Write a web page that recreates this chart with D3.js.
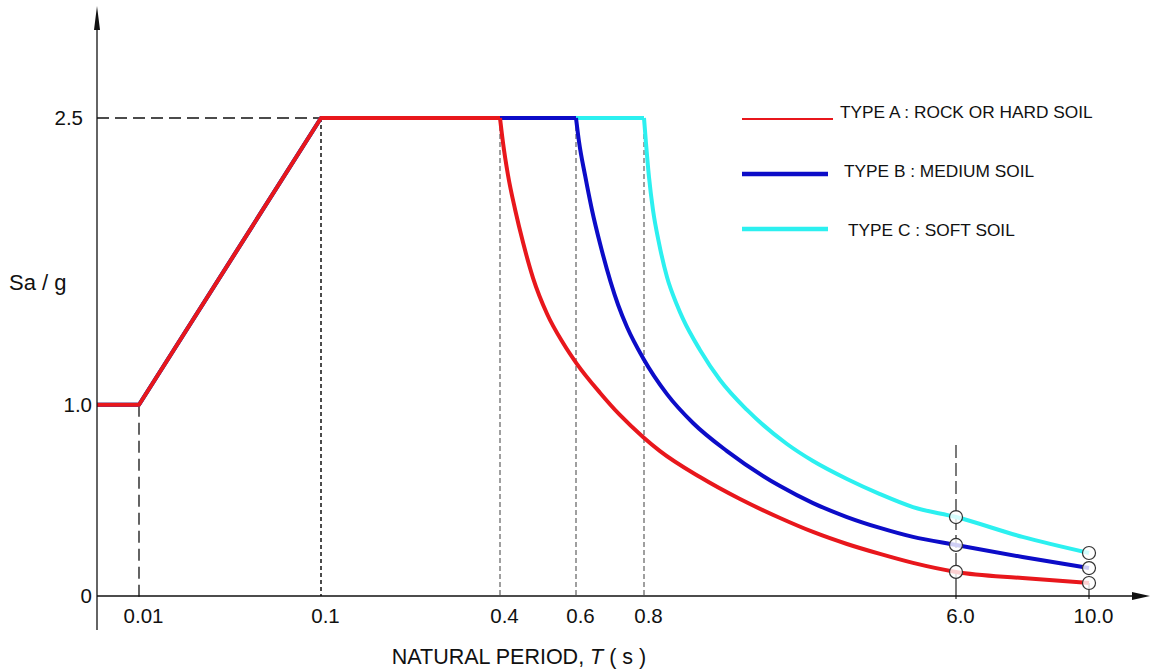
<!DOCTYPE html>
<html>
<head>
<meta charset="utf-8">
<script src="https://cdn.jsdelivr.net/npm/d3@7"></script>
<style>
body { margin: 0; background: #fff; }
text { font-family: "Liberation Sans", Arial, sans-serif; fill: #111; }
</style>
</head>
<body>
<script>
// axis ticks
const periodTicks = [0.01, 0.1, 0.4, 0.6, 0.8, 6.0, 10.0]
const periodLabels = ["0.01", "0.1", "0.4", "0.6", "0.8", "6.0", "10.0"]
const saTicks = [0, 1.0, 2.5]
const saLabels = ["0", "1.0", "2.5"]

// soil types
const soilTypes = ["TYPE A : ROCK OR HARD SOIL", "TYPE B : MEDIUM SOIL", "TYPE C : SOFT SOIL"]
const soilColors = ["#e8171c", "#0c0cc8", "#2cf0f0"]
const cornerT = [0.4, 0.6, 0.8]

// common rising branch
const rampT = [0, 0.01, 0.1]
const rampSa = [1.0, 1.0, 2.5]

// descending branches
const typeA_T = [0.4, 0.408, 0.421, 0.44, 0.461, 0.487, 0.524, 0.566, 0.603, 0.671, 0.729, 0.797, 1.067, 1.733, 2.4, 3.067, 3.617, 4.183, 4.733, 5.283, 6.0, 8.0, 10.0]
const typeA_Sa = [2.5, 2.369, 2.202, 2.019, 1.846, 1.663, 1.475, 1.323, 1.213, 1.062, 0.947, 0.832, 0.758, 0.622, 0.507, 0.408, 0.335, 0.272, 0.22, 0.173, 0.126, 0.094, 0.068]

const typeB_T = [0.6, 0.609, 0.627, 0.647, 0.671, 0.724, 0.75, 0.797, 1.183, 1.617, 2.183, 3.067, 3.617, 4.183, 4.733, 5.283, 6.0, 8.0, 10.0]
const typeB_Sa = [2.5, 2.374, 2.197, 2.019, 1.841, 1.522, 1.407, 1.245, 1.056, 0.905, 0.758, 0.575, 0.486, 0.413, 0.356, 0.309, 0.267, 0.204, 0.146]

const typeC_T = [0.8, 0.833, 0.883, 0.95, 1.05, 1.183, 1.35, 1.45, 1.733, 2.067, 2.517, 3.183, 3.617, 4.183, 4.733, 5.283, 6.0, 8.0, 10.0]
const typeC_Sa = [2.5, 2.369, 2.192, 2.019, 1.846, 1.668, 1.522, 1.449, 1.287, 1.13, 0.973, 0.795, 0.706, 0.612, 0.533, 0.465, 0.413, 0.309, 0.225]

const seriesT = [typeA_T, typeB_T, typeC_T]
const seriesSa = [typeA_Sa, typeB_Sa, typeC_Sa]
const markedT = [6.0, 10.0]

const W = 1150, H = 672

let svg = d3.select("body").append("svg")
    .attr("width", W)
    .attr("height", H)

// the period axis is drawn schematically, one linear piece between ticks
let x = d3.scaleLinear()
    .domain([0, 0.01, 0.1, 0.4, 0.6, 0.8, 6, 10])
    .range([97, 139, 321, 500, 576, 644, 956, 1089])

let y = d3.scaleLinear()
    .domain([0, 2.5])
    .range([596, 118])

// guide lines
function guide(x1, y1, x2, y2, color, dash, width){
    svg.append("line")
        .attr("x1", x1).attr("y1", y1)
        .attr("x2", x2).attr("y2", y2)
        .attr("stroke", color)
        .attr("stroke-width", width)
        .attr("stroke-dasharray", dash)
}

guide(x(0), y(2.5), x(0.1), y(2.5), "#111", "12,6", 1.3)
guide(x(0.01), y(1.0), x(0.01), y(0) + 3, "#111", "12,6", 1.3)
guide(x(0.1), y(2.5), x(0.1), y(0), "#111", "4,3", 1.5)
cornerT.forEach(t => guide(x(t), y(2.5), x(t), y(0), "#808080", "5,3", 1.5))
guide(x(6), 445, x(6), y(typeA_Sa[typeA_T.indexOf(6)]), "#222", "13,5", 1.2)
markedT.forEach(t => guide(x(t), y(typeA_Sa[typeA_T.indexOf(t)]), x(t), y(0) + 3, "#222", null, 1.2))

// curves, soft soil first so the stiffer types sit on top
let ramp = d3.line().x(d => x(d[0])).y(d => y(d[1]))
let decay = d3.line().x(d => x(d[0])).y(d => y(d[1])).curve(d3.curveMonotoneX)

for (let i = soilTypes.length - 1; i >= 0; i--){
    let up = rampT.map((t, j) => [t, rampSa[j]])
    up.push([cornerT[i], 2.5])
    let down = seriesT[i].map((t, j) => [t, seriesSa[i][j]])

    svg.append("path")
        .attr("d", ramp(up))
        .attr("fill", "none")
        .attr("stroke", soilColors[i])
        .attr("stroke-width", 4)
        .attr("stroke-linejoin", "round")

    svg.append("path")
        .attr("d", decay(down))
        .attr("fill", "none")
        .attr("stroke", soilColors[i])
        .attr("stroke-width", 4)
        .attr("stroke-linejoin", "round")
}

// end markers
for (let i = 0; i < soilTypes.length; i++){
    markedT.forEach(t => {
        svg.append("circle")
            .attr("cx", x(t))
            .attr("cy", y(seriesSa[i][seriesT[i].indexOf(t)]))
            .attr("r", 6.5)
            .attr("fill", "#fff")
            .attr("fill-opacity", 0.8)
            .attr("stroke", "#333")
            .attr("stroke-width", 1.2)
    })
}

// axis lines with arrows
svg.append("line")
    .attr("x1", 97).attr("y1", 630)
    .attr("x2", 97).attr("y2", 20)
    .attr("stroke", "#111").attr("stroke-width", 1.3)
svg.append("path")
    .attr("d", "M97,6 L100,30 L94,30 Z")
    .attr("fill", "#111")
svg.append("line")
    .attr("x1", 97).attr("y1", y(0))
    .attr("x2", 1140).attr("y2", y(0))
    .attr("stroke", "#111").attr("stroke-width", 1.5)
svg.append("path")
    .attr("d", "M1150,596 L1132,592 L1132,600 Z")
    .attr("fill", "#111")

// tick labels
svg.append("g")
    .attr("transform", "translate(0," + y(0) + ")")
    .call(d3.axisBottom(x).tickValues(periodTicks).tickSize(0).tickPadding(12)
        .tickFormat((d, i) => periodLabels[i]))
    .call(g => g.select(".domain").remove())
    .selectAll("text")
    .attr("dx", 4)
    .style("font-size", "20.5px")
    .style("font-family", "\"Liberation Sans\", Arial, sans-serif")
    .attr("fill", "#111")

svg.append("g")
    .attr("transform", "translate(97,0)")
    .call(d3.axisLeft(y).tickValues(saTicks).tickSize(0).tickPadding(5)
        .tickFormat((d, i) => saLabels[i]))
    .call(g => g.select(".domain").remove())
    .selectAll("text")
    .attr("dx", d => d == 2.5 ? -9 : 0)
    .style("font-size", "20.5px")
    .style("font-family", "\"Liberation Sans\", Arial, sans-serif")
    .attr("fill", "#111")

// axis titles
svg.append("text")
    .attr("x", 9)
    .attr("y", 290)
    .style("font-size", "22px")
    .text("Sa / g")

let xt = svg.append("text")
    .attr("x", 519)
    .attr("y", 664)
    .attr("text-anchor", "middle")
    .style("font-size", "21.5px")
xt.append("tspan").text("NATURAL PERIOD,  ")
xt.append("tspan").style("font-style", "italic").text("T")
xt.append("tspan").text(" ( s )")

// legend
soilTypes.forEach((name, i) => {
    let ly = 119 + i * 55
    svg.append("line")
        .attr("x1", 742).attr("y1", ly)
        .attr("x2", i == 0 ? 833 : 828).attr("y2", ly)
        .attr("stroke", soilColors[i])
        .attr("stroke-width", i == 0 ? 2.2 : 4.5)
    svg.append("text")
        .attr("x", 840 + i * 4)
        .attr("y", ly - 1 + i * 4)
        .style("font-size", "17.3px")
        .text(name)
})
</script>
</body>
</html>
